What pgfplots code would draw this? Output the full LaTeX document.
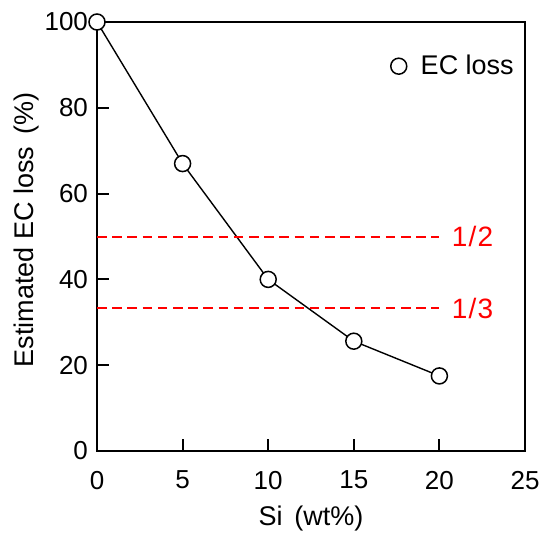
\documentclass[border=0pt]{standalone}
\usepackage{pgfplots}
\pgfplotsset{compat=1.18}
\usepackage{fontspec}
\setmainfont{Liberation Sans}
\begin{document}
\fontsize{13bp}{15bp}\selectfont
\begin{tikzpicture}
\useasboundingbox (-48.5bp,-43.5bp) rectangle (226.5bp,225.5bp);
\begin{axis}[
  at={(0,0)}, anchor=south west,
  scale only axis,
  width=214bp, height=214.5bp,
  xmin=0, xmax=25, ymin=0, ymax=100,
  xtick={0,5,10,15,20,25},
  ytick={0,20,40,60,80,100},
  tick pos=left,
  tick align=inside,
  major tick length=6bp,
  axis line style={line width=1bp},
  every tick/.style={line width=1bp, black},
  /pgf/number format/assume math mode=true,
  tick label style={font=\fontsize{13bp}{15bp}\selectfont},
  xticklabel style={yshift=-5.5bp},
  label style={font=\fontsize{13.5bp}{16bp}\selectfont},
  xlabel={Si\, (wt\%)},
  ylabel={Estimated EC loss\, (\%)},
  xlabel style={at={(axis description cs:0.5,-0.1585)}, anchor=center},
  ylabel style={at={(axis description cs:-0.1636,0.515)}, anchor=center},
  clip=false,
  legend style={draw=none, fill=none, at={(0.984,0.897)}, anchor=east,
    font=\fontsize{13.5bp}{16bp}\selectfont, inner sep=0pt},
  legend cell align=left,
]
\addplot[black, line width=0.7bp, mark=*, mark size=4bp,
  mark options={fill=white, draw=black, line width=0.75bp}, forget plot]
  coordinates {(0,100) (5,67) (10,40) (15,25.6) (20,17.5)};
\addlegendimage{only marks, mark=*, mark size=4bp,
  mark options={fill=white, draw=black, line width=0.75bp}}
\addlegendentry{\hspace{5bp}EC loss}
\addplot[red, line width=1bp, dash pattern=on 4.8bp off 2.8bp, forget plot]
  coordinates {(0,50) (20,50)};
\addplot[red, line width=1bp, dash pattern=on 4.8bp off 2.8bp, forget plot]
  coordinates {(0,33.33) (20,33.33)};
\node[red, anchor=west, inner sep=0pt, font=\fontsize{14bp}{16bp}\selectfont] at (axis cs:20.7,50) {1\kern0.6bp/\kern0.6bp2};
\node[red, anchor=west, inner sep=0pt, font=\fontsize{14bp}{16bp}\selectfont] at (axis cs:20.7,33.33) {1\kern0.6bp/\kern0.6bp3};
\end{axis}
\end{tikzpicture}
\end{document}
